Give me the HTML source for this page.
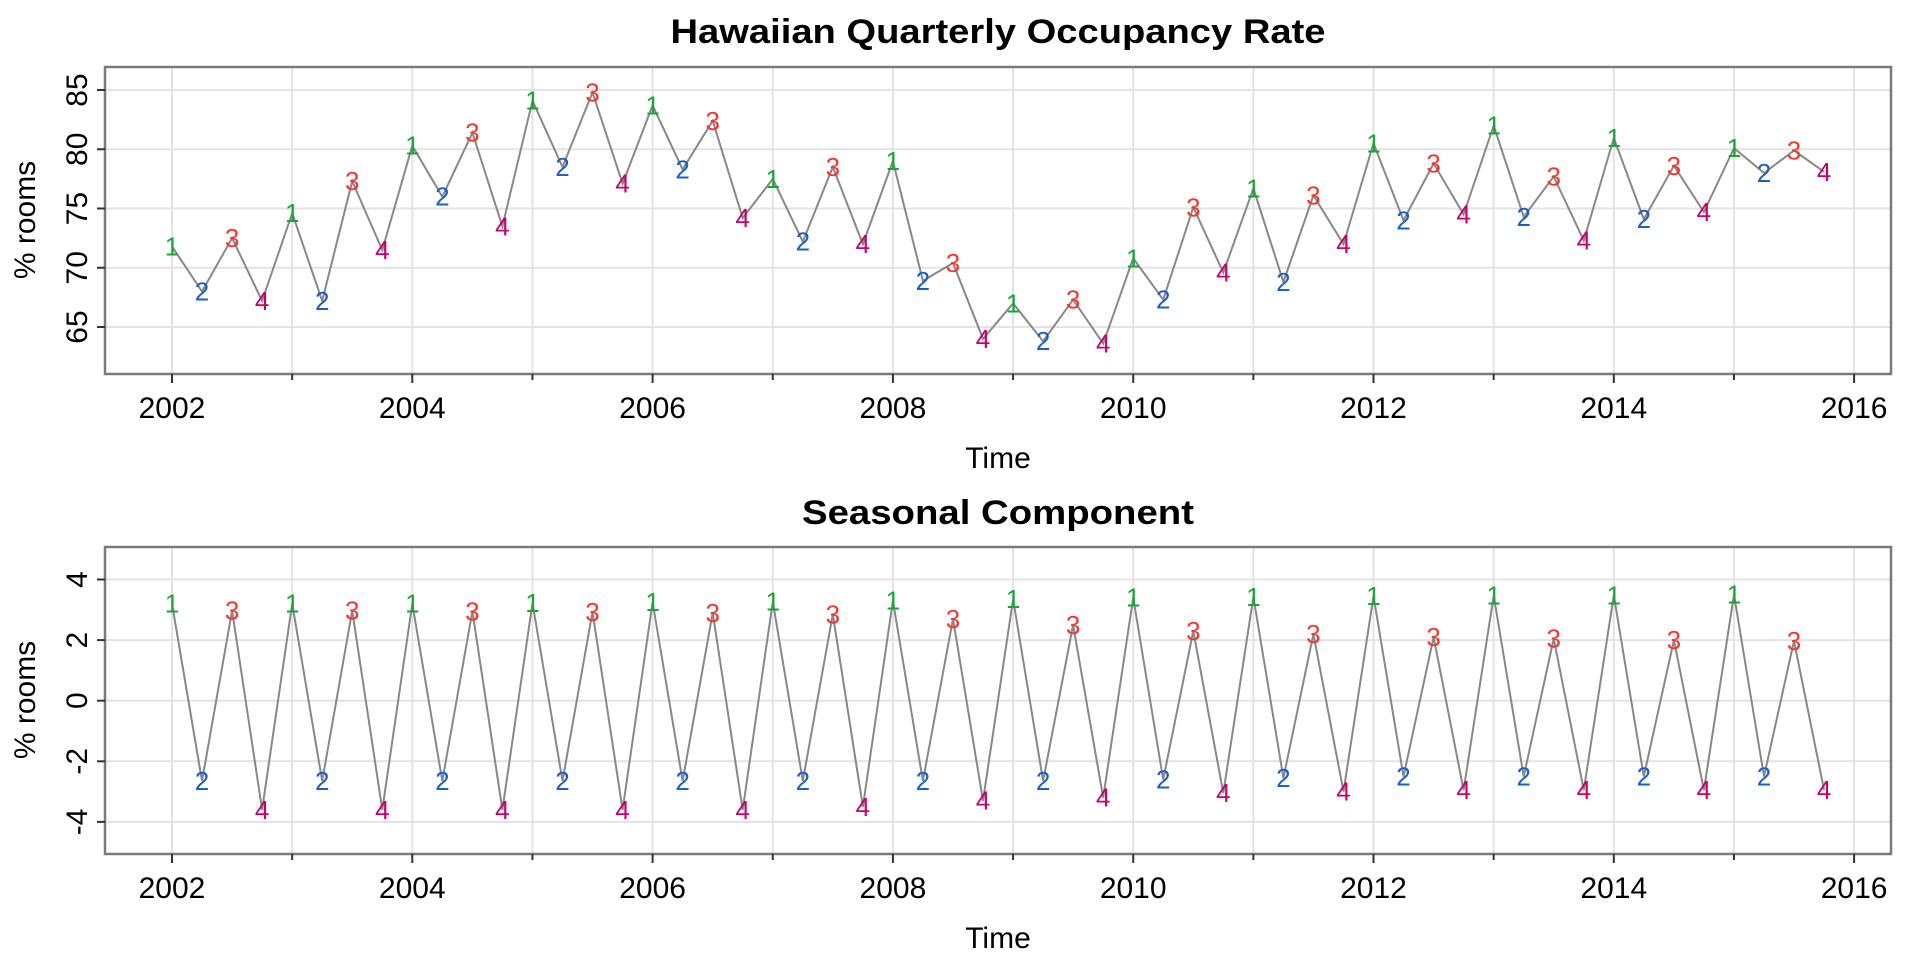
<!DOCTYPE html>
<html><head><meta charset="utf-8"><style>
html,body{margin:0;padding:0;background:#fff}
svg{display:block}
text{font-family:"Liberation Sans",Arial,sans-serif}
.t{font-size:30px;fill:#000}
.p{font-size:26px}
.g{stroke:#e3e3e3;stroke-width:2}
.q1{fill:#1aa636}.q2{fill:#1a5fc6}.q3{fill:#f5362f}.q4{fill:#c7006a}
</style></head><body>
<svg width="1920" height="960" xmlns="http://www.w3.org/2000/svg">
<!-- TOP PANEL -->
<text x="998" y="43" text-anchor="middle" font-weight="bold" font-size="34" textLength="655" lengthAdjust="spacingAndGlyphs">Hawaiian Quarterly Occupancy Rate</text>
<g>
<line class="g" x1="105" x2="1891" y1="90" y2="90"/><line class="g" x1="105" x2="1891" y1="149.25" y2="149.25"/><line class="g" x1="105" x2="1891" y1="208.5" y2="208.5"/><line class="g" x1="105" x2="1891" y1="267.75" y2="267.75"/><line class="g" x1="105" x2="1891" y1="327" y2="327"/>
<line class="g" x1="172" x2="172" y1="67" y2="374"/><line class="g" x1="292.15" x2="292.15" y1="67" y2="374"/><line class="g" x1="412.3" x2="412.3" y1="67" y2="374"/><line class="g" x1="532.45" x2="532.45" y1="67" y2="374"/><line class="g" x1="652.6" x2="652.6" y1="67" y2="374"/><line class="g" x1="772.75" x2="772.75" y1="67" y2="374"/><line class="g" x1="892.9" x2="892.9" y1="67" y2="374"/><line class="g" x1="1013.05" x2="1013.05" y1="67" y2="374"/><line class="g" x1="1133.2" x2="1133.2" y1="67" y2="374"/><line class="g" x1="1253.35" x2="1253.35" y1="67" y2="374"/><line class="g" x1="1373.5" x2="1373.5" y1="67" y2="374"/><line class="g" x1="1493.65" x2="1493.65" y1="67" y2="374"/><line class="g" x1="1613.8" x2="1613.8" y1="67" y2="374"/><line class="g" x1="1733.95" x2="1733.95" y1="67" y2="374"/><line class="g" x1="1854.1" x2="1854.1" y1="67" y2="374"/>
</g>
<polyline fill="none" stroke="#888" stroke-width="2" points="172,246.4 202,291.5 232.1,238.1 262.1,300.9 292.2,213.2 322.2,300.9 352.2,181.2 382.3,250 412.3,145.7 442.3,196.7 472.4,132.7 502.4,226.3 532.5,100.7 562.5,167 592.5,92.4 622.6,183.6 652.6,105.4 682.6,169.4 712.7,120.8 742.7,218 772.8,178.9 802.8,241.7 832.8,167 862.9,244.1 892.9,161.1 922.9,280.8 953,263 983,338.9 1013.1,303.3 1043.1,341.2 1073.1,299.7 1103.2,343.6 1133.2,258.3 1163.2,299.7 1193.3,207.3 1223.3,272.5 1253.4,188.4 1283.4,282 1313.4,195.5 1343.5,244.1 1373.5,143.3 1403.5,220.4 1433.6,163.5 1463.6,214.4 1493.7,125.6 1523.7,216.8 1553.7,176.5 1583.8,240.5 1613.8,138 1643.8,219.2 1673.9,165.8 1703.9,212 1734,148.1 1764,173 1794,150.5 1824.1,171.8"/>
<g class="p" text-anchor="middle">
<text class="q1" x="172" y="255.4">1</text><text class="q2" x="202" y="300.5">2</text><text class="q3" x="232.1" y="247.1">3</text><text class="q4" x="262.1" y="309.9">4</text>
<text class="q1" x="292.2" y="222.2">1</text><text class="q2" x="322.2" y="309.9">2</text><text class="q3" x="352.2" y="190.2">3</text><text class="q4" x="382.3" y="259">4</text>
<text class="q1" x="412.3" y="154.7">1</text><text class="q2" x="442.3" y="205.7">2</text><text class="q3" x="472.4" y="141.7">3</text><text class="q4" x="502.4" y="235.3">4</text>
<text class="q1" x="532.5" y="109.7">1</text><text class="q2" x="562.5" y="176">2</text><text class="q3" x="592.5" y="101.4">3</text><text class="q4" x="622.6" y="192.6">4</text>
<text class="q1" x="652.6" y="114.4">1</text><text class="q2" x="682.6" y="178.4">2</text><text class="q3" x="712.7" y="129.8">3</text><text class="q4" x="742.7" y="227">4</text>
<text class="q1" x="772.8" y="187.9">1</text><text class="q2" x="802.8" y="250.7">2</text><text class="q3" x="832.8" y="176">3</text><text class="q4" x="862.9" y="253.1">4</text>
<text class="q1" x="892.9" y="170.1">1</text><text class="q2" x="922.9" y="289.8">2</text><text class="q3" x="953" y="272">3</text><text class="q4" x="983" y="347.9">4</text>
<text class="q1" x="1013.1" y="312.3">1</text><text class="q2" x="1043.1" y="350.2">2</text><text class="q3" x="1073.1" y="308.7">3</text><text class="q4" x="1103.2" y="352.6">4</text>
<text class="q1" x="1133.2" y="267.3">1</text><text class="q2" x="1163.2" y="308.7">2</text><text class="q3" x="1193.3" y="216.3">3</text><text class="q4" x="1223.3" y="281.5">4</text>
<text class="q1" x="1253.4" y="197.4">1</text><text class="q2" x="1283.4" y="291">2</text><text class="q3" x="1313.4" y="204.5">3</text><text class="q4" x="1343.5" y="253.1">4</text>
<text class="q1" x="1373.5" y="152.3">1</text><text class="q2" x="1403.5" y="229.4">2</text><text class="q3" x="1433.6" y="172.5">3</text><text class="q4" x="1463.6" y="223.4">4</text>
<text class="q1" x="1493.7" y="134.6">1</text><text class="q2" x="1523.7" y="225.8">2</text><text class="q3" x="1553.7" y="185.5">3</text><text class="q4" x="1583.8" y="249.5">4</text>
<text class="q1" x="1613.8" y="147">1</text><text class="q2" x="1643.8" y="228.2">2</text><text class="q3" x="1673.9" y="174.8">3</text><text class="q4" x="1703.9" y="221">4</text>
<text class="q1" x="1734" y="157.1">1</text><text class="q2" x="1764" y="182">2</text><text class="q3" x="1794" y="159.5">3</text><text class="q4" x="1824.1" y="180.8">4</text>
</g>
<rect x="105" y="67" width="1786" height="307" fill="none" stroke="#7a7a7a" stroke-width="2.5"/>
<g stroke="#333" stroke-width="2">
<line x1="97" x2="105" y1="90" y2="90"/><line x1="97" x2="105" y1="149.25" y2="149.25"/><line x1="97" x2="105" y1="208.5" y2="208.5"/><line x1="97" x2="105" y1="267.75" y2="267.75"/><line x1="97" x2="105" y1="327" y2="327"/>
<line x1="172" x2="172" y1="374" y2="383"/><line x1="292.15" x2="292.15" y1="374" y2="380"/><line x1="412.3" x2="412.3" y1="374" y2="383"/><line x1="532.45" x2="532.45" y1="374" y2="380"/><line x1="652.6" x2="652.6" y1="374" y2="383"/><line x1="772.75" x2="772.75" y1="374" y2="380"/><line x1="892.9" x2="892.9" y1="374" y2="383"/><line x1="1013.05" x2="1013.05" y1="374" y2="380"/><line x1="1133.2" x2="1133.2" y1="374" y2="383"/><line x1="1253.35" x2="1253.35" y1="374" y2="380"/><line x1="1373.5" x2="1373.5" y1="374" y2="383"/><line x1="1493.65" x2="1493.65" y1="374" y2="380"/><line x1="1613.8" x2="1613.8" y1="374" y2="383"/><line x1="1733.95" x2="1733.95" y1="374" y2="380"/><line x1="1854.1" x2="1854.1" y1="374" y2="383"/>
</g>
<g class="t" text-anchor="middle">
<text transform="translate(87,90) rotate(-90)">85</text><text transform="translate(87,149.25) rotate(-90)">80</text><text transform="translate(87,208.5) rotate(-90)">75</text><text transform="translate(87,267.75) rotate(-90)">70</text><text transform="translate(87,327) rotate(-90)">65</text>
<text x="172" y="418">2002</text><text x="412.3" y="418">2004</text><text x="652.6" y="418">2006</text><text x="892.9" y="418">2008</text><text x="1133.2" y="418">2010</text><text x="1373.5" y="418">2012</text><text x="1613.8" y="418">2014</text><text x="1854.1" y="418">2016</text>
<text x="998" y="468">Time</text>
<text transform="translate(35,220) rotate(-90)">% rooms</text>
</g>

<!-- BOTTOM PANEL -->
<text x="998" y="524" text-anchor="middle" font-weight="bold" font-size="34" textLength="392" lengthAdjust="spacingAndGlyphs">Seasonal Component</text>
<g>
<line class="g" x1="105" x2="1891" y1="579.5" y2="579.5"/><line class="g" x1="105" x2="1891" y1="640.1" y2="640.1"/><line class="g" x1="105" x2="1891" y1="700.7" y2="700.7"/><line class="g" x1="105" x2="1891" y1="761.3" y2="761.3"/><line class="g" x1="105" x2="1891" y1="821.9" y2="821.9"/>
<line class="g" x1="172" x2="172" y1="547" y2="854"/><line class="g" x1="292.15" x2="292.15" y1="547" y2="854"/><line class="g" x1="412.3" x2="412.3" y1="547" y2="854"/><line class="g" x1="532.45" x2="532.45" y1="547" y2="854"/><line class="g" x1="652.6" x2="652.6" y1="547" y2="854"/><line class="g" x1="772.75" x2="772.75" y1="547" y2="854"/><line class="g" x1="892.9" x2="892.9" y1="547" y2="854"/><line class="g" x1="1013.05" x2="1013.05" y1="547" y2="854"/><line class="g" x1="1133.2" x2="1133.2" y1="547" y2="854"/><line class="g" x1="1253.35" x2="1253.35" y1="547" y2="854"/><line class="g" x1="1373.5" x2="1373.5" y1="547" y2="854"/><line class="g" x1="1493.65" x2="1493.65" y1="547" y2="854"/><line class="g" x1="1613.8" x2="1613.8" y1="547" y2="854"/><line class="g" x1="1733.95" x2="1733.95" y1="547" y2="854"/><line class="g" x1="1854.1" x2="1854.1" y1="547" y2="854"/>
</g>
<polyline fill="none" stroke="#888" stroke-width="2" points="172,603.7 202,781 232.1,610.7 262.1,809.8 292.2,603.7 322.2,781 352.2,610.7 382.3,809.8 412.3,603.7 442.3,781 472.4,611.3 502.4,809.8 532.5,603.1 562.5,781 592.5,611.9 622.6,809.8 652.6,602.2 682.6,781 712.7,612.8 742.7,809.8 772.8,601.6 802.8,781 832.8,614.3 862.9,806.8 892.9,600.7 922.9,781 953,618.9 983,800.7 1013.1,599.2 1043.1,781 1073.1,624.9 1103.2,797.7 1133.2,597.7 1163.2,779.5 1193.3,631 1223.3,793.1 1253.4,596.8 1283.4,778 1313.4,634 1343.5,791.6 1373.5,596.2 1403.5,776.5 1433.6,637.1 1463.6,790.1 1493.7,595.6 1523.7,776.5 1553.7,638.6 1583.8,790.1 1613.8,595.3 1643.8,776.5 1673.9,640.1 1703.9,790.1 1734,594.7 1764,776.5 1794,641 1824.1,790.1"/>
<g class="p" text-anchor="middle">
<text class="q1" x="172" y="612.7">1</text><text class="q2" x="202" y="790">2</text><text class="q3" x="232.1" y="619.7">3</text><text class="q4" x="262.1" y="818.8">4</text>
<text class="q1" x="292.2" y="612.7">1</text><text class="q2" x="322.2" y="790">2</text><text class="q3" x="352.2" y="619.7">3</text><text class="q4" x="382.3" y="818.8">4</text>
<text class="q1" x="412.3" y="612.7">1</text><text class="q2" x="442.3" y="790">2</text><text class="q3" x="472.4" y="620.3">3</text><text class="q4" x="502.4" y="818.8">4</text>
<text class="q1" x="532.5" y="612.1">1</text><text class="q2" x="562.5" y="790">2</text><text class="q3" x="592.5" y="620.9">3</text><text class="q4" x="622.6" y="818.8">4</text>
<text class="q1" x="652.6" y="611.2">1</text><text class="q2" x="682.6" y="790">2</text><text class="q3" x="712.7" y="621.8">3</text><text class="q4" x="742.7" y="818.8">4</text>
<text class="q1" x="772.8" y="610.6">1</text><text class="q2" x="802.8" y="790">2</text><text class="q3" x="832.8" y="623.3">3</text><text class="q4" x="862.9" y="815.8">4</text>
<text class="q1" x="892.9" y="609.7">1</text><text class="q2" x="922.9" y="790">2</text><text class="q3" x="953" y="627.9">3</text><text class="q4" x="983" y="809.7">4</text>
<text class="q1" x="1013.1" y="608.2">1</text><text class="q2" x="1043.1" y="790">2</text><text class="q3" x="1073.1" y="633.9">3</text><text class="q4" x="1103.2" y="806.7">4</text>
<text class="q1" x="1133.2" y="606.7">1</text><text class="q2" x="1163.2" y="788.5">2</text><text class="q3" x="1193.3" y="640">3</text><text class="q4" x="1223.3" y="802.1">4</text>
<text class="q1" x="1253.4" y="605.8">1</text><text class="q2" x="1283.4" y="787">2</text><text class="q3" x="1313.4" y="643">3</text><text class="q4" x="1343.5" y="800.6">4</text>
<text class="q1" x="1373.5" y="605.2">1</text><text class="q2" x="1403.5" y="785.5">2</text><text class="q3" x="1433.6" y="646.1">3</text><text class="q4" x="1463.6" y="799.1">4</text>
<text class="q1" x="1493.7" y="604.6">1</text><text class="q2" x="1523.7" y="785.5">2</text><text class="q3" x="1553.7" y="647.6">3</text><text class="q4" x="1583.8" y="799.1">4</text>
<text class="q1" x="1613.8" y="604.3">1</text><text class="q2" x="1643.8" y="785.5">2</text><text class="q3" x="1673.9" y="649.1">3</text><text class="q4" x="1703.9" y="799.1">4</text>
<text class="q1" x="1734" y="603.7">1</text><text class="q2" x="1764" y="785.5">2</text><text class="q3" x="1794" y="650">3</text><text class="q4" x="1824.1" y="799.1">4</text>
</g>
<rect x="105" y="547" width="1786" height="307" fill="none" stroke="#7a7a7a" stroke-width="2.5"/>
<g stroke="#333" stroke-width="2">
<line x1="97" x2="105" y1="579.5" y2="579.5"/><line x1="97" x2="105" y1="640.1" y2="640.1"/><line x1="97" x2="105" y1="700.7" y2="700.7"/><line x1="97" x2="105" y1="761.3" y2="761.3"/><line x1="97" x2="105" y1="821.9" y2="821.9"/>
<line x1="172" x2="172" y1="854" y2="863"/><line x1="292.15" x2="292.15" y1="854" y2="860"/><line x1="412.3" x2="412.3" y1="854" y2="863"/><line x1="532.45" x2="532.45" y1="854" y2="860"/><line x1="652.6" x2="652.6" y1="854" y2="863"/><line x1="772.75" x2="772.75" y1="854" y2="860"/><line x1="892.9" x2="892.9" y1="854" y2="863"/><line x1="1013.05" x2="1013.05" y1="854" y2="860"/><line x1="1133.2" x2="1133.2" y1="854" y2="863"/><line x1="1253.35" x2="1253.35" y1="854" y2="860"/><line x1="1373.5" x2="1373.5" y1="854" y2="863"/><line x1="1493.65" x2="1493.65" y1="854" y2="860"/><line x1="1613.8" x2="1613.8" y1="854" y2="863"/><line x1="1733.95" x2="1733.95" y1="854" y2="860"/><line x1="1854.1" x2="1854.1" y1="854" y2="863"/>
</g>
<g class="t" text-anchor="middle">
<text transform="translate(87,579.5) rotate(-90)">4</text><text transform="translate(87,640.1) rotate(-90)">2</text><text transform="translate(87,700.7) rotate(-90)">0</text><text transform="translate(87,761.3) rotate(-90)">-2</text><text transform="translate(87,821.9) rotate(-90)">-4</text>
<text x="172" y="898">2002</text><text x="412.3" y="898">2004</text><text x="652.6" y="898">2006</text><text x="892.9" y="898">2008</text><text x="1133.2" y="898">2010</text><text x="1373.5" y="898">2012</text><text x="1613.8" y="898">2014</text><text x="1854.1" y="898">2016</text>
<text x="998" y="948">Time</text>
<text transform="translate(35,700) rotate(-90)">% rooms</text>
</g>
</svg>
</body></html>
